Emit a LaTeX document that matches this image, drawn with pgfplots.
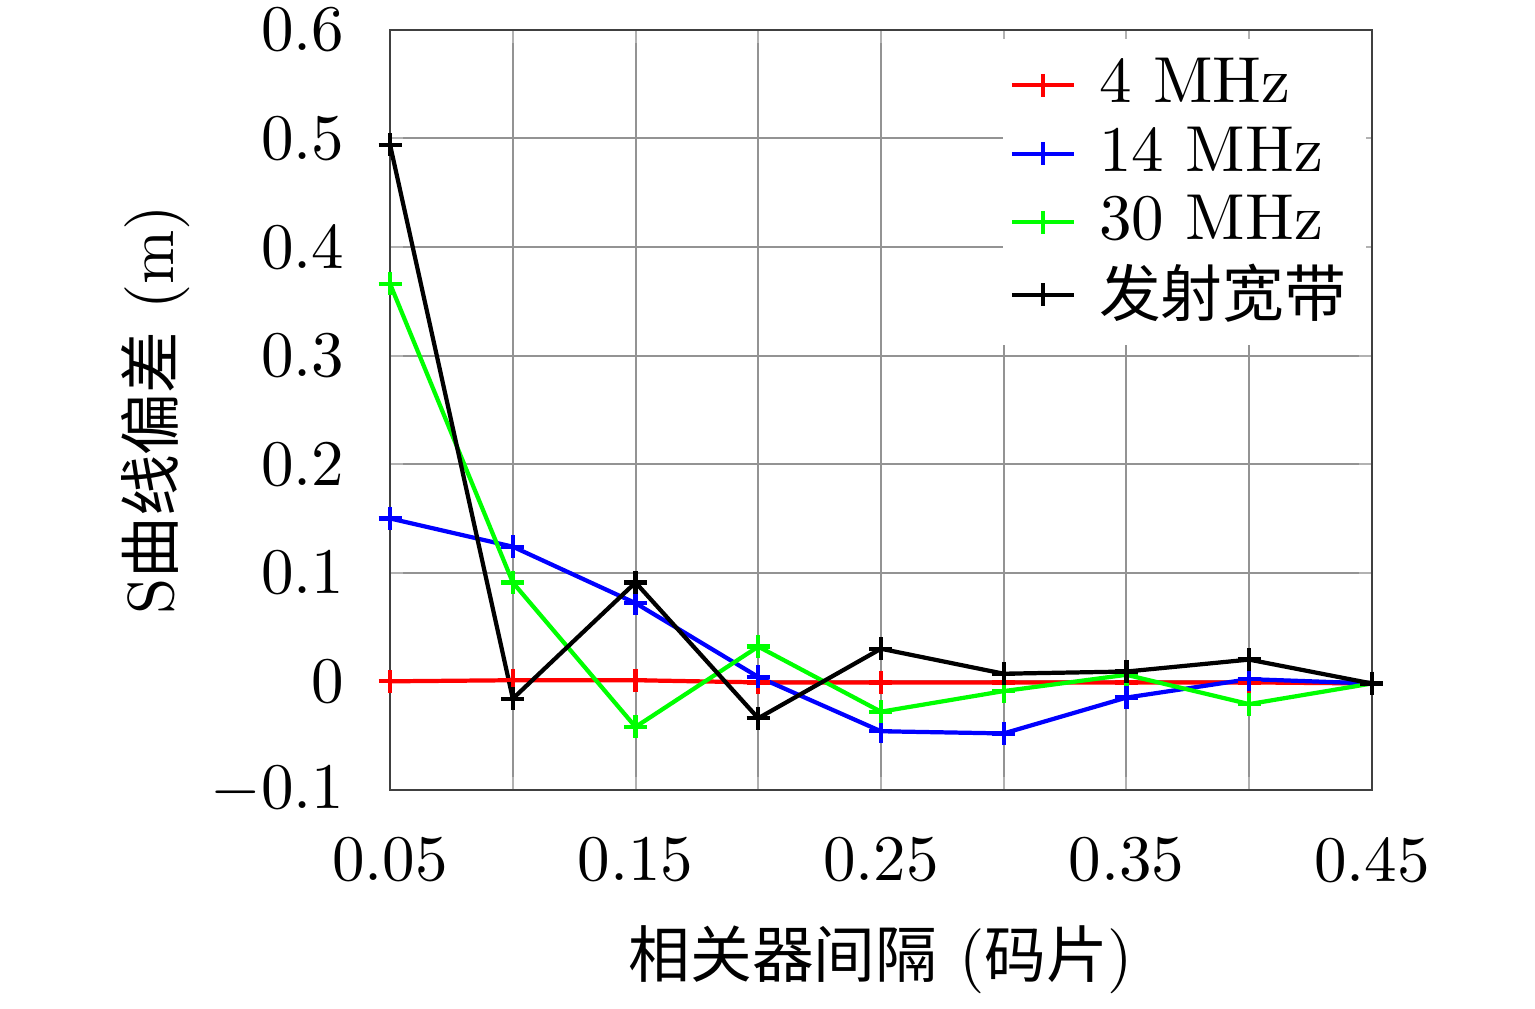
\documentclass[border=0pt]{standalone}
\usepackage{fontspec}
\usepackage{pgfplots}
\pgfplotsset{compat=1.18}
\newfontfamily\cjk[Scale=0.95]{Noto Sans CJK SC}
\definecolor{pgreen}{RGB}{0,255,0}
\definecolor{pred}{RGB}{255,0,0}
\definecolor{pblue}{RGB}{0,0,255}
\begin{document}
\begin{tikzpicture}
\begin{axis}[
  name=ax,
  scale only axis,
  width=151pt, height=116.9pt,
  xmin=0.05, xmax=0.45, ymin=-0.1, ymax=0.6,
  xtick={0.05,0.15,0.25,0.35,0.45},
  minor xtick={0.1,0.2,0.3,0.4},
  ytick={-0.1,0,0.1,0.2,0.3,0.4,0.5,0.6},
  xticklabels={0.05,0.15,0.25,0.35,0.45},
  yticklabels={$-0.1$,0,0.1,0.2,0.3,0.4,0.5,0.6},
  grid=both,
  major grid style={draw=gray!85, line width=0.3pt},
  minor grid style={draw=gray!85, line width=0.3pt},
  major tick length=2pt, minor tick length=2pt,
  tick style={draw=gray!60, line width=0.3pt},
  axis line style={draw=black!75, line width=0.4pt},
  tick label style={font=\fontsize{10}{12}\selectfont},
  yticklabel style={xshift=-3.5pt},
  xticklabel style={yshift=-3.8pt},
  xlabel={{\cjk 相关器间隔} ({\cjk 码片})},
  ylabel={S{\cjk 曲线偏差} (m)},
  xlabel style={at={(axis description cs:0.5,-0.224)}, anchor=center, font=\fontsize{10}{12}\selectfont},
  ylabel style={at={(axis description cs:-0.239,0.5)}, anchor=center, rotate=0, font=\fontsize{10}{12}\selectfont},
  legend style={at={(axis description cs:0.995,0.99)}, anchor=north east, draw=none, fill=white,
    font=\fontsize{10}{12}\selectfont, row sep=-1.8pt, inner sep=1pt,
    /tikz/every odd column/.append style={column sep=1.6pt}},
  legend cell align=left,
  legend image code/.code={\draw[#1] (0pt,0pt) -- (9.5pt,0pt); \draw[#1, mark repeat=1] plot coordinates {(4.75pt,0pt)};},
  every axis plot/.append style={line width=0.65pt, mark=+, mark size=1.77pt},
]
\addplot[pred] coordinates {
(0.05,0) (0.1,0.001) (0.15,0.001) (0.2,-0.001) (0.25,-0.001) (0.3,-0.001) (0.35,-0.001) (0.4,-0.001) (0.45,-0.002)};
\addlegendentry{4 MHz}
\addplot[pblue] coordinates {
(0.05,0.150) (0.1,0.124) (0.15,0.072) (0.2,0.004) (0.25,-0.046) (0.3,-0.048) (0.35,-0.015) (0.4,0.002) (0.45,-0.002)};
\addlegendentry{14 MHz}
\addplot[pgreen] coordinates {
(0.05,0.366) (0.1,0.091) (0.15,-0.042) (0.2,0.032) (0.25,-0.028) (0.3,-0.009) (0.35,0.006) (0.4,-0.021) (0.45,-0.002)};
\addlegendentry{30 MHz}
\addplot[black] coordinates {
(0.05,0.494) (0.1,-0.016) (0.15,0.091) (0.2,-0.034) (0.25,0.030) (0.3,0.007) (0.35,0.009) (0.4,0.020) (0.45,-0.002)};
\addlegendentry{{\cjk 发射宽带}}
\end{axis}
\pgfresetboundingbox
\path[use as bounding box] ([shift={(-60pt,-33.7pt)}]ax.south west) rectangle ([shift={(25.1pt,4.6pt)}]ax.north east);
\end{tikzpicture}
\end{document}
